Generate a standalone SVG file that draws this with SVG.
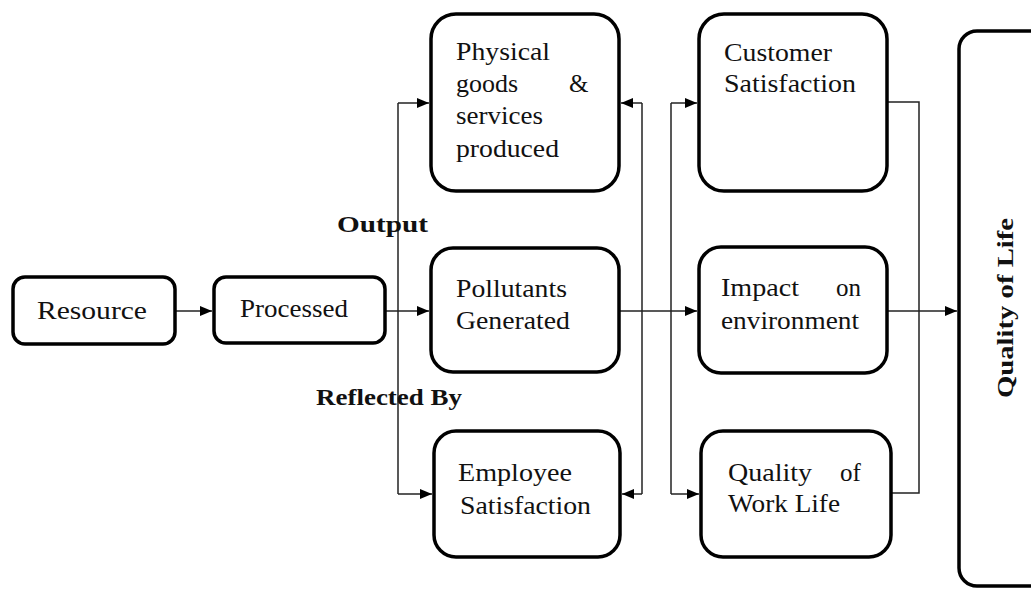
<svg xmlns="http://www.w3.org/2000/svg" width="1031" height="589" viewBox="0 0 1031 589">
  <style>
    .box { fill: #ffffff; stroke: #000000; stroke-width: 3.5; }
    .lbl { font-family: 'Liberation Serif', 'DejaVu Serif', serif; font-size: 25px; fill: #111111; }
    .bold { font-family: 'Liberation Serif', 'DejaVu Serif', serif; font-size: 24px; font-weight: bold; fill: #111111; }
    .wire { fill: none; stroke: #222222; stroke-width: 1.5; }
  </style>
  <defs>
    <marker id="arrow" viewBox="0 0 12 10" refX="12" refY="5" markerWidth="12" markerHeight="10" markerUnits="userSpaceOnUse" orient="auto">
      <path d="M0,0 L12,5 L0,10 Z" fill="#000000"/>
    </marker>
  </defs>

  <rect width="1031" height="589" fill="#ffffff"/>

  <!-- connectors -->
  <g id="connectors">
    <line class="wire" x1="176" y1="311" x2="212" y2="311" marker-end="url(#arrow)"/>
    <line class="wire" x1="385" y1="311" x2="429" y2="311" marker-end="url(#arrow)"/>
    <!-- output split -->
    <line class="wire" x1="398" y1="103" x2="398" y2="494"/>
    <line class="wire" x1="398" y1="103" x2="429" y2="103" marker-end="url(#arrow)"/>
    <line class="wire" x1="398" y1="494" x2="432" y2="494" marker-end="url(#arrow)"/>
    <!-- pollutants to impact -->
    <line class="wire" x1="620" y1="311" x2="697" y2="311" marker-end="url(#arrow)"/>
    <!-- feedback to goods and employee -->
    <line class="wire" x1="642" y1="103" x2="642" y2="494"/>
    <line class="wire" x1="642" y1="103" x2="621" y2="103" marker-end="url(#arrow)"/>
    <line class="wire" x1="642" y1="494" x2="622" y2="494" marker-end="url(#arrow)"/>
    <!-- reflected-by split -->
    <line class="wire" x1="671" y1="103" x2="671" y2="494"/>
    <line class="wire" x1="671" y1="103" x2="697" y2="103" marker-end="url(#arrow)"/>
    <line class="wire" x1="671" y1="494" x2="699" y2="494" marker-end="url(#arrow)"/>
    <!-- customer / work life link -->
    <polyline class="wire" points="888,102 919,102 919,493 892,493"/>
    <line class="wire" x1="888" y1="311" x2="957" y2="311" marker-end="url(#arrow)"/>
  </g>

  <g id="resource">
    <rect class="box" x="13" y="277" width="162" height="67" rx="12"/>
    <text class="lbl" x="37" y="319" textLength="110" lengthAdjust="spacingAndGlyphs">Resource</text>
  </g>

  <g id="processed">
    <rect class="box" x="214" y="277" width="171" height="66" rx="12"/>
    <text class="lbl" x="240" y="317" textLength="108" lengthAdjust="spacingAndGlyphs">Processed</text>
  </g>

  <g id="physical-goods">
    <rect class="box" x="431" y="14" width="188" height="177" rx="25"/>
    <text class="lbl" x="456" y="60" textLength="94" lengthAdjust="spacingAndGlyphs">Physical</text>
    <text class="lbl" x="456" y="92" textLength="62" lengthAdjust="spacingAndGlyphs">goods</text>
    <text class="lbl" x="569" y="92">&amp;</text>
    <text class="lbl" x="456" y="124" textLength="87" lengthAdjust="spacingAndGlyphs">services</text>
    <text class="lbl" x="456" y="157" textLength="103" lengthAdjust="spacingAndGlyphs">produced</text>
  </g>

  <g id="pollutants">
    <rect class="box" x="431" y="248" width="188" height="124" rx="22"/>
    <text class="lbl" x="456" y="297" textLength="111" lengthAdjust="spacingAndGlyphs">Pollutants</text>
    <text class="lbl" x="456" y="329" textLength="114" lengthAdjust="spacingAndGlyphs">Generated</text>
  </g>

  <g id="employee">
    <rect class="box" x="434" y="431" width="186" height="126" rx="22"/>
    <text class="lbl" x="458" y="481" textLength="114" lengthAdjust="spacingAndGlyphs">Employee</text>
    <text class="lbl" x="460" y="514" textLength="131" lengthAdjust="spacingAndGlyphs">Satisfaction</text>
  </g>

  <g id="customer">
    <rect class="box" x="699" y="14" width="188" height="177" rx="25"/>
    <text class="lbl" x="724" y="61" textLength="108" lengthAdjust="spacingAndGlyphs">Customer</text>
    <text class="lbl" x="724" y="92" textLength="132" lengthAdjust="spacingAndGlyphs">Satisfaction</text>
  </g>

  <g id="impact">
    <rect class="box" x="699" y="247" width="188" height="126" rx="22"/>
    <text class="lbl" x="721" y="296" textLength="78" lengthAdjust="spacingAndGlyphs">Impact</text>
    <text class="lbl" x="836" y="296">on</text>
    <text class="lbl" x="721" y="329" textLength="138" lengthAdjust="spacingAndGlyphs">environment</text>
  </g>

  <g id="work-life">
    <rect class="box" x="701" y="431" width="190" height="126" rx="22"/>
    <text class="lbl" x="728" y="481" textLength="84" lengthAdjust="spacingAndGlyphs">Quality</text>
    <text class="lbl" x="840" y="481">of</text>
    <text class="lbl" x="728" y="512" textLength="112" lengthAdjust="spacingAndGlyphs">Work Life</text>
  </g>

  <g id="quality-of-life">
    <rect class="box" x="959" y="31" width="110" height="555" rx="18"/>
    <text class="bold" x="1013" y="398" transform="rotate(-90 1013 398)" textLength="180" lengthAdjust="spacingAndGlyphs">Quality of Life</text>
  </g>

  <g id="labels">
    <text class="bold" x="337" y="232" textLength="91" lengthAdjust="spacingAndGlyphs">Output</text>
    <text class="bold" x="316" y="405" textLength="146" lengthAdjust="spacingAndGlyphs">Reflected By</text>
  </g>
</svg>
